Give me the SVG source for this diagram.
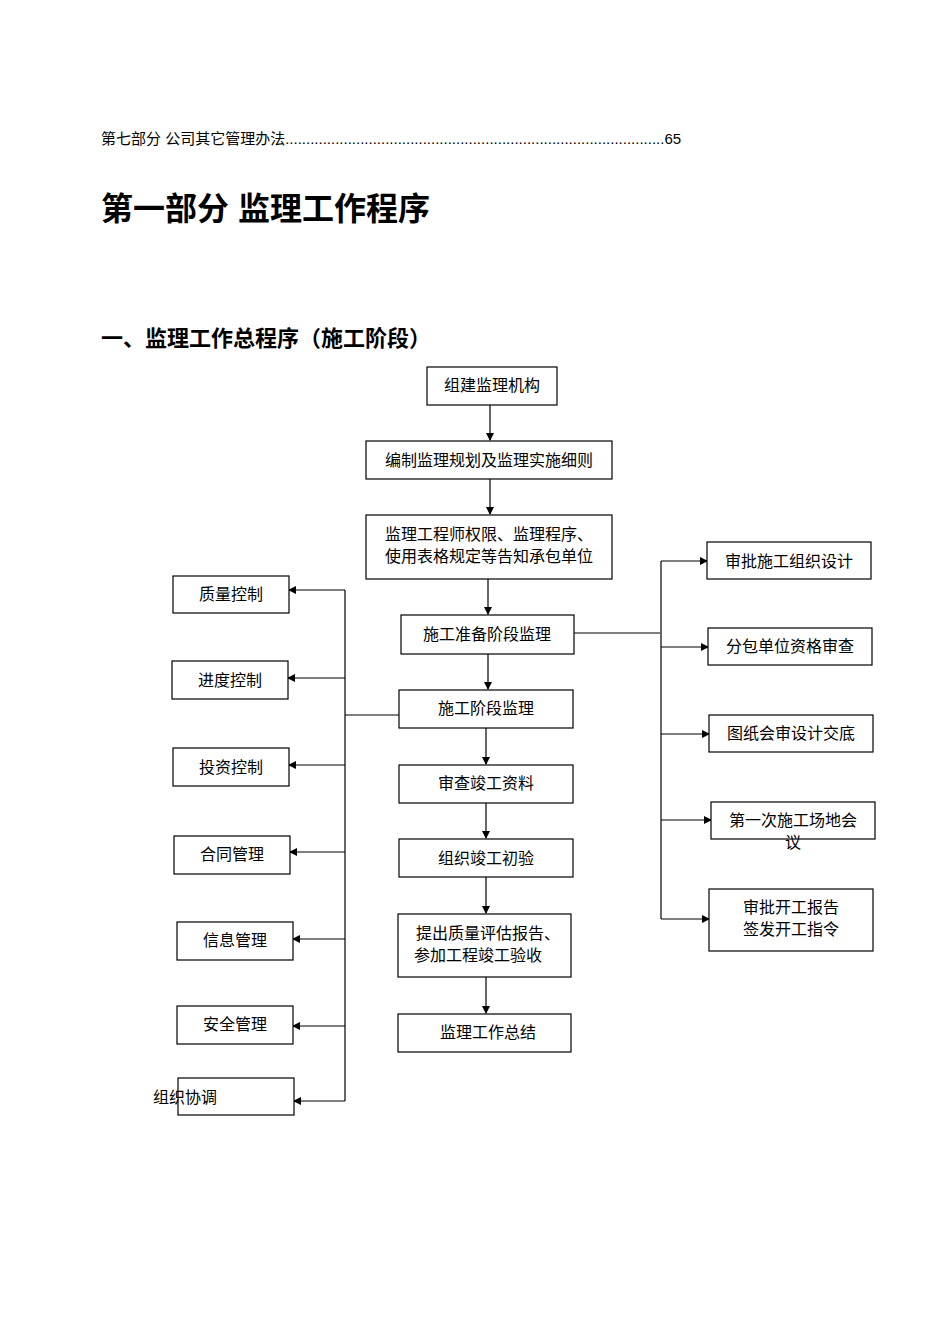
<svg xmlns="http://www.w3.org/2000/svg" width="950" height="1344" viewBox="0 0 950 1344">
<style>
text{font-family:"Liberation Sans","Noto Sans CJK SC",sans-serif;fill:#000}
.b rect{fill:#fff;stroke:#000;stroke-width:1.2}
.b text{font-size:16px;text-anchor:middle}
.c line{stroke:#000;stroke-width:1.2}
.a{marker-end:url(#ar)}
</style>
<defs><marker id="ar" markerWidth="8" markerHeight="8" refX="7" refY="4" orient="auto" markerUnits="userSpaceOnUse"><path d="M0,0 L8,4 L0,8 Z" fill="#000"/></marker></defs>
<rect width="950" height="1344" fill="#fff"/>
<text x="101" y="144" font-size="15">第七部分  公司其它管理办法...........................................................................................65</text>
<text x="101" y="220" font-size="32" font-weight="bold">第一部分 监理工作程序</text>
<text x="101" y="346" font-size="22" font-weight="bold">一、监理工作总程序（施工阶段）</text>
<g class="c">
<line class="a" x1="490" y1="405" x2="490" y2="440"/>
<line class="a" x1="490" y1="479" x2="490" y2="514"/>
<line class="a" x1="488" y1="579" x2="488" y2="614"/>
<line class="a" x1="488" y1="654" x2="488" y2="689"/>
<line class="a" x1="486" y1="728" x2="486" y2="764"/>
<line class="a" x1="486" y1="803" x2="486" y2="838"/>
<line class="a" x1="486" y1="877" x2="486" y2="913"/>
<line class="a" x1="486" y1="977" x2="486" y2="1013"/>
<line x1="574" y1="633" x2="660" y2="633"/>
<line x1="661" y1="561" x2="661" y2="919"/>
<line class="a" x1="661" y1="561" x2="707" y2="561"/>
<line class="a" x1="661" y1="647" x2="708" y2="647"/>
<line class="a" x1="661" y1="734" x2="709" y2="734"/>
<line class="a" x1="661" y1="820" x2="711" y2="820"/>
<line class="a" x1="661" y1="919" x2="709" y2="919"/>
<line x1="399" y1="715" x2="345" y2="715"/>
<line x1="345" y1="590" x2="345" y2="1101"/>
<line class="a" x1="345" y1="590" x2="289" y2="590"/>
<line class="a" x1="345" y1="678" x2="288" y2="678"/>
<line class="a" x1="345" y1="765" x2="289" y2="765"/>
<line class="a" x1="345" y1="852" x2="290" y2="852"/>
<line class="a" x1="345" y1="939" x2="293" y2="939"/>
<line class="a" x1="345" y1="1026" x2="293" y2="1026"/>
<line class="a" x1="345" y1="1101" x2="294" y2="1101"/>
</g>
<g id="n1" class="b"><rect x="427" y="367" width="130" height="38"/><text x="492" y="391">组建监理机构</text></g>
<g id="n2" class="b"><rect x="366" y="441" width="246" height="38"/><text x="489" y="466">编制监理规划及监理实施细则</text></g>
<g id="n3" class="b"><rect x="366" y="515" width="246" height="64"/><text x="489" y="540">监理工程师权限、监理程序、</text><text x="489" y="562">使用表格规定等告知承包单位</text></g>
<g id="n4" class="b"><rect x="401" y="615" width="173" height="39"/><text x="487" y="640">施工准备阶段监理</text></g>
<g id="n5" class="b"><rect x="399" y="690" width="174" height="38"/><text x="486" y="714">施工阶段监理</text></g>
<g id="n6" class="b"><rect x="399" y="765" width="174" height="38"/><text x="486" y="789">审查竣工资料</text></g>
<g id="n7" class="b"><rect x="399" y="839" width="174" height="38"/><text x="486" y="864">组织竣工初验</text></g>
<g id="n8" class="b"><rect x="398" y="914" width="173" height="63"/><text x="488" y="939">提出质量评估报告、</text><text x="478" y="961">参加工程竣工验收</text></g>
<g id="n9" class="b"><rect x="398" y="1014" width="173" height="38"/><text x="488" y="1038">监理工作总结</text></g>
<g id="r1" class="b"><rect x="707" y="542" width="164" height="37"/><text x="789" y="567">审批施工组织设计</text></g>
<g id="r2" class="b"><rect x="708" y="628" width="164" height="37"/><text x="790" y="652">分包单位资格审查</text></g>
<g id="r3" class="b"><rect x="709" y="715" width="164" height="37"/><text x="791" y="739">图纸会审设计交底</text></g>
<g id="r4" class="b"><rect x="711" y="802" width="164" height="37"/><text x="793" y="826">第一次施工场地会</text><text x="793" y="848">议</text></g>
<g id="r5" class="b"><rect x="709" y="889" width="164" height="62"/><text x="791" y="913">审批开工报告</text><text x="791" y="935">签发开工指令</text></g>
<g id="l1" class="b"><rect x="173" y="576" width="116" height="37"/><text x="231" y="600">质量控制</text></g>
<g id="l2" class="b"><rect x="172" y="661" width="116" height="38"/><text x="230" y="686">进度控制</text></g>
<g id="l3" class="b"><rect x="173" y="748" width="116" height="38"/><text x="231" y="773">投资控制</text></g>
<g id="l4" class="b"><rect x="174" y="836" width="116" height="38"/><text x="232" y="860">合同管理</text></g>
<g id="l5" class="b"><rect x="177" y="922" width="116" height="38"/><text x="235" y="946">信息管理</text></g>
<g id="l6" class="b"><rect x="177" y="1006" width="116" height="38"/><text x="235" y="1030">安全管理</text></g>
<g id="l7" class="b"><rect x="178" y="1078" width="116" height="37"/><text x="185" y="1103">组织协调</text></g>
</svg>
